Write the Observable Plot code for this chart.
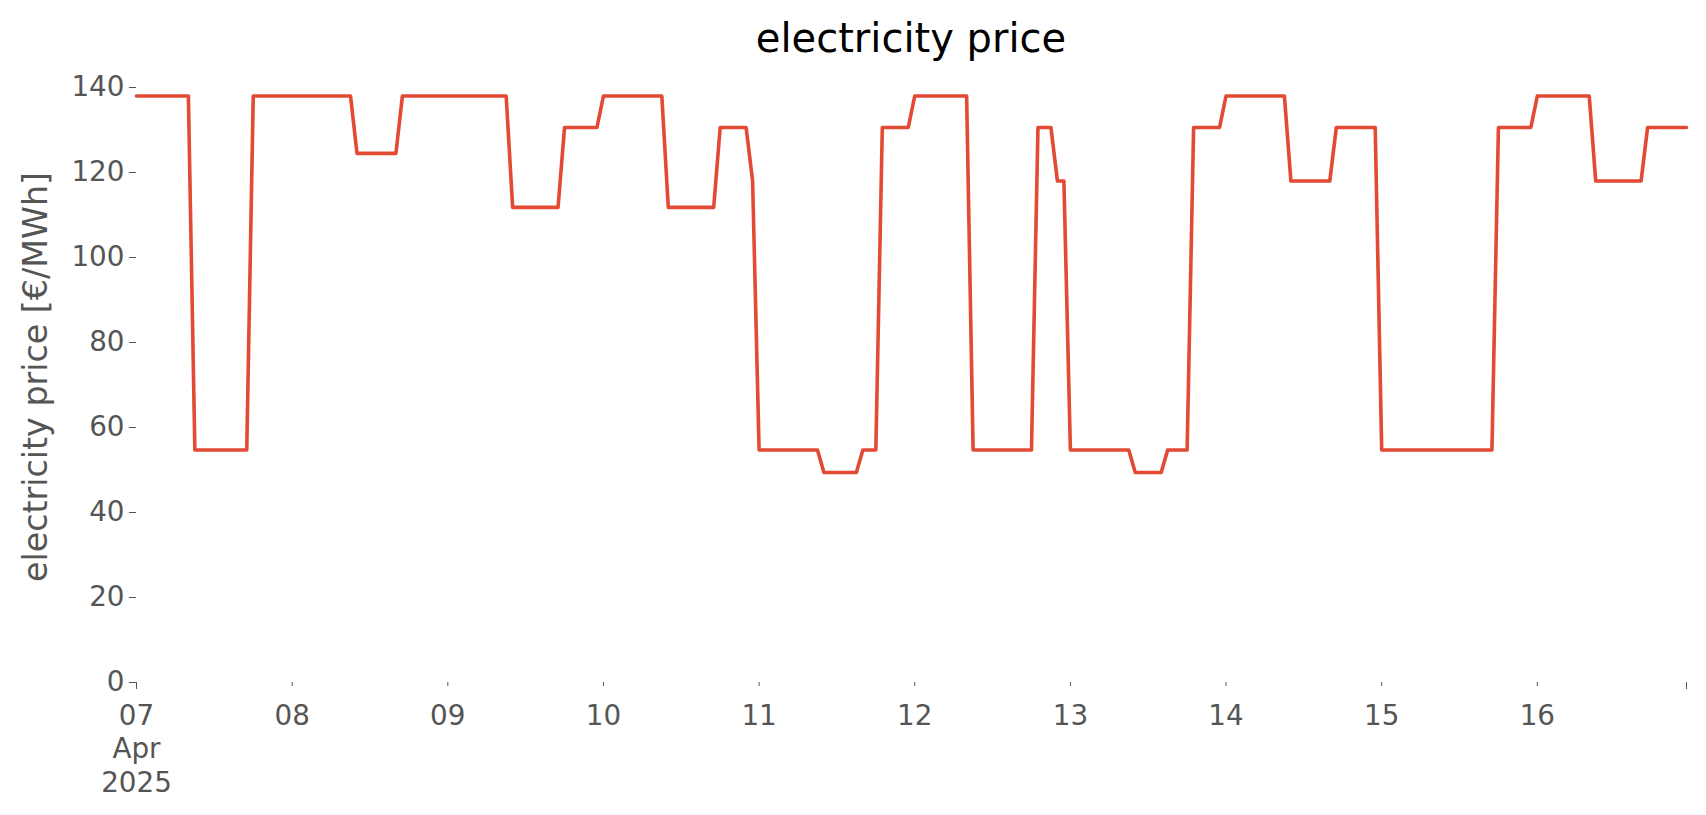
<!DOCTYPE html>
<html><head><meta charset="utf-8">
<script src="https://cdn.jsdelivr.net/npm/d3@7"></script>
<script src="https://cdn.jsdelivr.net/npm/@observablehq/plot@0.6"></script>
<style>
html,body{margin:0;padding:0;background:#fff;}
#wrap{position:relative;width:1706px;height:815px;font-family:"DejaVu Sans",sans-serif;overflow:hidden;}
#title{position:absolute;left:136px;width:1550px;top:16px;height:44px;line-height:44px;text-align:center;font-size:40px;color:#000;z-index:2;}
#ylabel{position:absolute;left:36px;top:377px;transform:translate(-50%,-50%) rotate(-90deg);white-space:nowrap;font-size:33.3px;line-height:40px;color:#555555;z-index:2;}
#chart{position:absolute;left:0;top:70px;z-index:1;}
</style></head><body>
<div id="wrap"><div id="chart"></div><div id="title">electricity price</div><div id="ylabel"></div></div>
<script>
// hourly electricity price, one array per day (00:00 .. 23:00 UTC)
const startDate = "2025-04-07T00:00:00Z";
const apr07 = [138,138,138,138,138,138,138,138,138, 54.7,54.7,54.7,54.7,54.7,54.7,54.7,54.7,54.7, 138,138,138,138,138,138];
const apr08 = [138,138,138,138,138,138,138,138,138,138, 124.5,124.5,124.5,124.5,124.5,124.5,124.5, 138,138,138,138,138,138,138];
const apr09 = [138,138,138,138,138,138,138,138,138,138, 111.8,111.8,111.8,111.8,111.8,111.8,111.8,111.8, 130.6,130.6,130.6,130.6,130.6,130.6];
const apr10 = [138,138,138,138,138,138,138,138,138,138, 111.8,111.8,111.8,111.8,111.8,111.8,111.8,111.8, 130.6,130.6,130.6,130.6,130.6, 118];
const apr11 = [54.7,54.7,54.7,54.7,54.7,54.7,54.7,54.7,54.7,54.7, 49.4,49.4,49.4,49.4,49.4,49.4, 54.7,54.7,54.7, 130.6,130.6,130.6,130.6,130.6];
const apr12 = [138,138,138,138,138,138,138,138,138, 54.7,54.7,54.7,54.7,54.7,54.7,54.7,54.7,54.7,54.7, 130.6,130.6,130.6, 118,118];
const apr13 = [54.7,54.7,54.7,54.7,54.7,54.7,54.7,54.7,54.7,54.7, 49.4,49.4,49.4,49.4,49.4, 54.7,54.7,54.7,54.7, 130.6,130.6,130.6,130.6,130.6];
const apr14 = [138,138,138,138,138,138,138,138,138,138, 118,118,118,118,118,118,118, 130.6,130.6,130.6,130.6,130.6,130.6,130.6];
const apr15 = [54.7,54.7,54.7,54.7,54.7,54.7,54.7,54.7,54.7,54.7,54.7,54.7,54.7,54.7,54.7,54.7,54.7,54.7, 130.6,130.6,130.6,130.6,130.6,130.6];
const apr16 = [138,138,138,138,138,138,138,138,138, 118,118,118,118,118,118,118,118, 130.6,130.6,130.6,130.6,130.6,130.6,130.6];

const dayTicks = ["2025-04-07","2025-04-08","2025-04-09","2025-04-10","2025-04-11","2025-04-12","2025-04-13","2025-04-14","2025-04-15","2025-04-16"];
const dayTickLabels = ["07\nApr\n2025","08","09","10","11","12","13","14","15","16"];
const yTicks = [0,20,40,60,80,100,120,140];
const yLabel = "electricity price [€/MWh]";

document.getElementById('ylabel').textContent = yLabel;

const prices = [].concat(apr07,apr08,apr09,apr10,apr11,apr12,apr13,apr14,apr15,apr16);
const t0 = Date.parse(startDate);
const data = prices.map((v,i)=>({time:new Date(t0+i*3600e3), price:v}));
const first = data[0].time, last = data[data.length-1].time;
const ticks = dayTicks.map(d=>new Date(d+"T00:00:00Z"));
const labelMap = new Map(ticks.map((d,i)=>[+d, dayTickLabels[i]]));

const W=1706, H=745;
const plot = Plot.plot({
  width:W, height:H, marginLeft:136, marginRight:20, marginTop:17, marginBottom:133,
  style:{fontFamily:'"DejaVu Sans", sans-serif', background:'transparent', overflow:'visible'},
  x:{type:'utc', domain:[first,last]},
  y:{domain:[0,140]},
  marks:[
    Plot.axisY({ticks:yTicks, tickSize:7, tickPadding:5, fontSize:27.8, color:'#555555', label:null}),
    Plot.axisX({ticks, tickSize:4, tickPadding:14, fontSize:27.8, color:'#555555', label:null, tickFormat:d=>labelMap.get(+d) ?? "", lineHeight:1.22}),
    Plot.axisX({ticks:[first,last], tickSize:7, tickFormat:()=>"", label:null, color:'#555555'}),
    Plot.line(data, {x:'time', y:'price', stroke:'#E24A33', strokeWidth:3.6, strokeLinejoin:'round'})
  ]
});
document.getElementById('chart').appendChild(plot);
</script>
</body></html>
